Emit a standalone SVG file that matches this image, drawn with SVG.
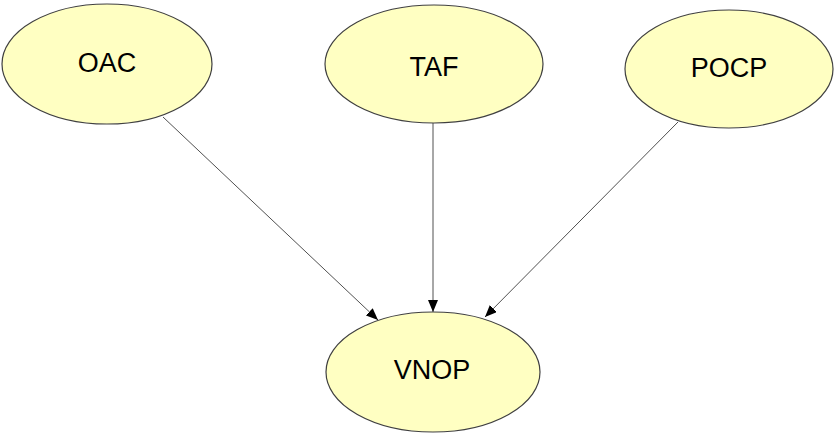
<svg xmlns="http://www.w3.org/2000/svg" width="838" height="434" viewBox="0 0 838 434">
  <defs>
    <style>
      .node ellipse { fill: #ffffc2; stroke: #404040; stroke-width: 1.2; }
      .node text { font-family: "Liberation Sans", Arial, sans-serif; font-size: 27px; fill: #000; text-anchor: middle; }
      .edge { stroke: #505050; stroke-width: 1; fill: none; marker-end: url(#arrow); }
    </style>
    <marker id="arrow" viewBox="0 0 12 10" refX="12" refY="5" markerWidth="12" markerHeight="10" markerUnits="userSpaceOnUse" orient="auto">
      <path d="M0,0 L12,5 L0,10 Z" fill="#000"/>
    </marker>
  </defs>
  <rect width="838" height="434" fill="#fff"/>

  <g id="connectors">
    <line class="edge" x1="163" y1="117" x2="378" y2="320"/>
    <line class="edge" x1="433" y1="123" x2="433" y2="312"/>
    <line class="edge" x1="678" y1="122" x2="485" y2="317"/>
  </g>

  <g id="OAC" class="node">
    <ellipse cx="107" cy="64" rx="105" ry="60"/>
    <text x="107" y="72">OAC</text>
  </g>
  <g id="TAF" class="node">
    <ellipse cx="434" cy="64" rx="109" ry="59"/>
    <text x="434" y="76">TAF</text>
  </g>
  <g id="POCP" class="node">
    <ellipse cx="729" cy="69" rx="104" ry="59"/>
    <text x="729" y="77">POCP</text>
  </g>
  <g id="VNOP" class="node">
    <ellipse cx="433" cy="372" rx="107" ry="60"/>
    <text x="432" y="379">VNOP</text>
  </g>
</svg>
